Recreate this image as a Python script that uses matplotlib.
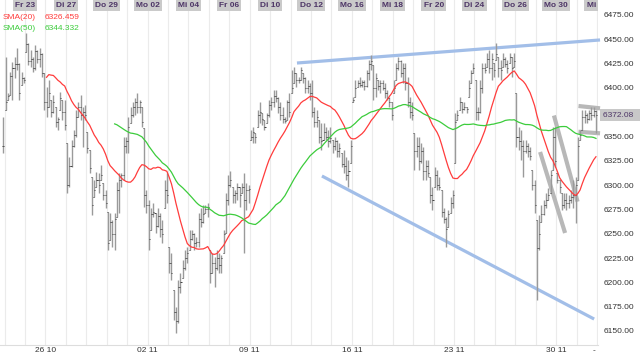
import matplotlib
matplotlib.use("Agg")
import matplotlib.pyplot as plt
import matplotlib.transforms as mtransforms
from matplotlib.ticker import FormatStrFormatter
import numpy as np
import pandas as pd

plt.rcParams['font.family'] = ['Liberation Sans', 'DejaVu Sans']

# labels on top (every 2nd trading day) and at the bottom (mondays)
day_labels = ["Fr 23", "Di 27", "Do 29", "Mo 02", "Mi 04", "Fr 06", "Di 10", "Do 12",
              "Mo 16", "Mi 18", "Fr 20", "Di 24", "Do 26", "Mo 30", "Mi 02"]
week_labels = ["26 10", "02 11", "09 11", "16 11", "23 11", "30 11", "-"]
price_ticks = [6150, 6175, 6200, 6225, 6250, 6275, 6300, 6325, 6350, 6375, 6400, 6425, 6450, 6475]

# hourly bars, 9 per day; first bar is the last one of 21.10.
high = [6370,
        6432, 6395, 6416, 6427, 6432, 6441, 6426, 6416, 6411,   # Do 22
        6456, 6446, 6439, 6432, 6444, 6439, 6441, 6436, 6415,   # Fr 23
        6401, 6408, 6388, 6393, 6380, 6370, 6396, 6388, 6388,   # Mo 26
        6343, 6329, 6346, 6357, 6377, 6385, 6393, 6380, 6382,   # Di 27
        6355, 6336, 6308, 6305, 6314, 6312, 6321, 6302, 6295,   # Mi 28
        6272, 6271, 6264, 6271, 6303, 6312, 6312, 6350, 6350,   # Do 29
        6370, 6380, 6385, 6390, 6395, 6388, 6380, 6359, 6295,   # Fr 30
        6285, 6277, 6282, 6271, 6277, 6271, 6264, 6305, 6312,   # Mo 02
        6236, 6230, 6192, 6175, 6202, 6210, 6223, 6233, 6236,   # Di 03
        6254, 6254, 6251, 6247, 6271, 6277, 6280, 6280, 6282,   # Mi 04
        6233, 6230, 6226, 6233, 6230, 6228, 6254, 6292, 6310,   # Do 05
        6315, 6298, 6295, 6302, 6298, 6302, 6312, 6302, 6300,   # Fr 06
        6357, 6360, 6354, 6377, 6385, 6374, 6367, 6374, 6388,   # Mo 09
        6391, 6398, 6398, 6391, 6385, 6380, 6370, 6388, 6395,   # Di 10
        6418, 6421, 6415, 6411, 6421, 6415, 6411, 6408, 6405,   # Mi 11
        6408, 6380, 6377, 6367, 6364, 6364, 6360, 6357, 6360,   # Do 12
        6346, 6350, 6346, 6343, 6333, 6336, 6329, 6326, 6346,   # Fr 13
        6391, 6408, 6408, 6411, 6408, 6408, 6418, 6429, 6434,   # Mo 16
        6424, 6415, 6408, 6408, 6408, 6405, 6398, 6391, 6385,   # Di 17
        6408, 6426, 6432, 6429, 6426, 6426, 6411, 6391, 6385,   # Mi 18
        6354, 6350, 6350, 6343, 6339, 6326, 6326, 6308, 6298,   # Do 19
        6319, 6316, 6308, 6295, 6277, 6267, 6274, 6288, 6295,   # Fr 20
        6374, 6377, 6391, 6385, 6385, 6380, 6408, 6418, 6426,   # Mo 23
        6408, 6380, 6408, 6426, 6426, 6436, 6439, 6436, 6426,   # Di 24
        6446, 6432, 6429, 6436, 6432, 6429, 6436, 6432, 6436,   # Mi 25
        6395, 6360, 6357, 6346, 6346, 6343, 6339, 6316, 6305,   # Do 26
        6264, 6269, 6280, 6285, 6292, 6297, 6316, 6360, 6360,   # Fr 27
        6312, 6305, 6292, 6292, 6292, 6290, 6295, 6305, 6308,   # Mo 30
        6350, 6357, 6377, 6377, 6374, 6377, 6380, 6380, 6377]   # Di 01

low = [6333,
       6377, 6388, 6393, 6388, 6410, 6418, 6388, 6403, 6405,
       6437, 6424, 6421, 6416, 6418, 6426, 6421, 6411, 6377,
       6370, 6380, 6370, 6374, 6360, 6357, 6377, 6367, 6357,
       6292, 6298, 6319, 6339, 6350, 6370, 6367, 6339, 6367,
       6333, 6312, 6269, 6288, 6298, 6292, 6305, 6285, 6277,
       6233, 6244, 6236, 6233, 6267, 6271, 6298, 6305, 6333,
       6333, 6364, 6370, 6372, 6374, 6374, 6360, 6278, 6271,
       6233, 6254, 6267, 6251, 6257, 6247, 6240, 6277, 6282,
       6210, 6202, 6161, 6148, 6158, 6189, 6205, 6213, 6220,
       6233, 6244, 6233, 6236, 6236, 6257, 6261, 6271, 6267,
       6199, 6210, 6195, 6213, 6210, 6210, 6230, 6251, 6280,
       6298, 6282, 6282, 6285, 6278, 6292, 6230, 6274, 6282,
       6346, 6343, 6343, 6360, 6364, 6362, 6357, 6364, 6370,
       6377, 6380, 6385, 6374, 6367, 6364, 6364, 6367, 6370,
       6395, 6405, 6401, 6405, 6408, 6405, 6395, 6395, 6388,
       6370, 6360, 6360, 6343, 6336, 6346, 6346, 6339, 6343,
       6333, 6336, 6329, 6329, 6319, 6312, 6305, 6298, 6323,
       6385, 6391, 6401, 6401, 6401, 6398, 6401, 6408, 6418,
       6388, 6391, 6398, 6395, 6398, 6390, 6388, 6380, 6367,
       6395, 6408, 6418, 6411, 6405, 6398, 6380, 6369, 6367,
       6316, 6329, 6316, 6323, 6305, 6305, 6308, 6282, 6274,
       6298, 6295, 6295, 6267, 6261, 6236, 6257, 6271, 6277,
       6323, 6367, 6377, 6374, 6377, 6374, 6391, 6405, 6415,
       6367, 6367, 6374, 6395, 6415, 6421, 6415, 6408, 6411,
       6429, 6411, 6408, 6421, 6421, 6415, 6426, 6411, 6421,
       6339, 6336, 6326, 6308, 6333, 6329, 6326, 6295, 6271,
       6182, 6233, 6262, 6269, 6277, 6285, 6292, 6316, 6319,
       6302, 6292, 6274, 6277, 6274, 6277, 6282, 6277, 6261,
       6305, 6346, 6357, 6364, 6364, 6367, 6367, 6370, 6354]

close = [6340,
         6385, 6392, 6412, 6420, 6425, 6425, 6395, 6410, 6408,
         6445, 6428, 6430, 6420, 6438, 6430, 6435, 6415, 6385,
         6380, 6395, 6375, 6385, 6365, 6368, 6390, 6375, 6362,
         6300, 6320, 6340, 6352, 6370, 6380, 6372, 6375, 6372,
         6338, 6318, 6280, 6295, 6305, 6300, 6310, 6290, 6282,
         6240, 6262, 6250, 6265, 6295, 6305, 6310, 6340, 6345,
         6360, 6372, 6380, 6385, 6380, 6385, 6365, 6290, 6280,
         6245, 6270, 6272, 6258, 6268, 6255, 6250, 6295, 6290,
         6220, 6210, 6170, 6160, 6195, 6200, 6215, 6225, 6230,
         6245, 6250, 6240, 6242, 6265, 6262, 6270, 6275, 6278,
         6210, 6220, 6215, 6225, 6218, 6225, 6250, 6285, 6300,
         6305, 6290, 6292, 6298, 6290, 6298, 6285, 6295, 6296,
         6350, 6355, 6350, 6372, 6375, 6368, 6360, 6372, 6382,
         6385, 6392, 6390, 6380, 6372, 6368, 6366, 6385, 6375,
         6400, 6415, 6408, 6408, 6418, 6410, 6400, 6402, 6395,
         6375, 6365, 6370, 6350, 6345, 6355, 6350, 6345, 6348,
         6340, 6345, 6335, 6338, 6322, 6320, 6310, 6315, 6340,
         6388, 6400, 6405, 6403, 6406, 6402, 6415, 6425, 6428,
         6400, 6410, 6402, 6405, 6400, 6395, 6390, 6385, 6372,
         6400, 6420, 6428, 6415, 6420, 6405, 6385, 6375, 6372,
         6335, 6340, 6325, 6335, 6315, 6320, 6312, 6290, 6285,
         6310, 6300, 6298, 6272, 6265, 6255, 6270, 6282, 6290,
         6365, 6372, 6385, 6378, 6380, 6378, 6400, 6415, 6420,
         6375, 6375, 6400, 6420, 6418, 6430, 6420, 6430, 6418,
         6435, 6420, 6418, 6430, 6425, 6420, 6432, 6420, 6428,
         6350, 6345, 6340, 6335, 6340, 6335, 6330, 6300, 6280,
         6235, 6250, 6270, 6280, 6285, 6290, 6310, 6350, 6325,
         6305, 6298, 6280, 6285, 6282, 6285, 6288, 6290, 6300,
         6340, 6352, 6370, 6372, 6368, 6374, 6372, 6376, 6372.08]

last_price = "6372.08"
sma20_value = "6326.459"
sma50_value = "6344.332"

# drawn trend lines: (bar index, price) pairs
blue_lines = [((129.3, 6425.6), (262.8, 6449.3)),
              ((140.3, 6309.4), (260.2, 6162.3))]
gray_lines = [((236.4, 6334.1), (247.4, 6250.8)),
              ((242.5, 6371.6), (252.9, 6283.0)),
              ((253.3, 6381.4), (262.8, 6379.0)),
              ((253.3, 6354.9), (262.8, 6353.3))]

n = len(close)
x = np.arange(n)
opens = np.clip([close[0]] + close[:-1], low, high)
sma20 = pd.Series(close).rolling(20).mean()
sma50 = pd.Series(close).rolling(50).mean()
day_edges = np.arange(0.5, n + 1, 9)

fig = plt.figure(figsize=(6.4, 3.56), dpi=100)
ax = fig.add_axes([0, 11 / 356, 598 / 640, 345 / 356])
ax.set_xlim(-1.5, 261.9)
ax.set_ylim(6135.6, 6490.4)

for e in day_edges:
    ax.axvline(e, color='#ebebeb', lw=0.8, zorder=0)

for (x0, y0), (x1, y1) in blue_lines:
    ax.plot([x0, x1], [y0, y1], color='#a2bee8', lw=2.3, solid_capstyle='butt', zorder=2, clip_on=False)
for (x0, y0), (x1, y1) in gray_lines:
    ax.plot([x0, x1], [y0, y1], color='#b8b8b8', lw=3, solid_capstyle='butt', zorder=2, clip_on=False)

# OHLC bars
ax.vlines(x, low, high, color='#9a9a9a', lw=1.0, zorder=3)
ax.hlines(opens, x - 0.45, x, color='#404040', lw=0.7, zorder=4)
ax.hlines(close, x, x + 0.45, color='#404040', lw=0.7, zorder=4)

ax.plot(x, sma20, color='#ff3c3c', lw=0.9, zorder=5)
ax.plot(x, sma50, color='#3ccc3c', lw=0.9, zorder=5)

# day labels on top
tr = mtransforms.blended_transform_factory(ax.transData, ax.transAxes)
for xe, lab in zip(day_edges[1::2], day_labels):
    ax.text(xe, 0.984, lab, transform=tr, ha='center', va='center', fontsize=6,
            fontweight='bold', color='#4d3566', clip_on=True, zorder=6,
            bbox=dict(boxstyle='square,pad=0.25', fc='#cacaca', ec='none'))

ax.text(0.005, 0.948, "SMA(20)", transform=ax.transAxes, fontsize=6, color='#ff3c3c', va='center')
ax.text(0.075, 0.948, sma20_value, transform=ax.transAxes, fontsize=6, color='#ff3c3c', va='center')
ax.text(0.005, 0.917, "SMA(50)", transform=ax.transAxes, fontsize=6, color='#3ccc3c', va='center')
ax.text(0.075, 0.917, sma50_value, transform=ax.transAxes, fontsize=6, color='#3ccc3c', va='center')

# axes
ax.yaxis.tick_right()
ax.set_yticks(price_ticks)
ax.yaxis.set_major_formatter(FormatStrFormatter('%.2f'))
ax.tick_params(axis='y', length=0, pad=4, labelsize=6, labelcolor='#333333')
ax.set_xticks(list(day_edges[[2, 7, 12, 17, 22, 27]]) + [day_edges[-1] - 1.5])
ax.set_xticklabels(week_labels)
ax.tick_params(axis='x', length=0, pad=1.5, labelsize=6, labelcolor='#333333')
for s in ['top', 'left', 'right']:
    ax.spines[s].set_visible(False)
ax.spines['bottom'].set_color('#dddddd')
ax.spines['bottom'].set_linewidth(0.8)

# current price box
trp = mtransforms.blended_transform_factory(ax.transAxes, ax.transData)
ax.text(1.008, float(last_price), last_price + "  ", transform=trp, ha='left', va='center',
        fontsize=6, color='#4d3566', clip_on=False, zorder=7,
        bbox=dict(boxstyle='square,pad=0.3', fc='#c8c8c8', ec='none'))

fig.savefig("out.png", dpi=100)
